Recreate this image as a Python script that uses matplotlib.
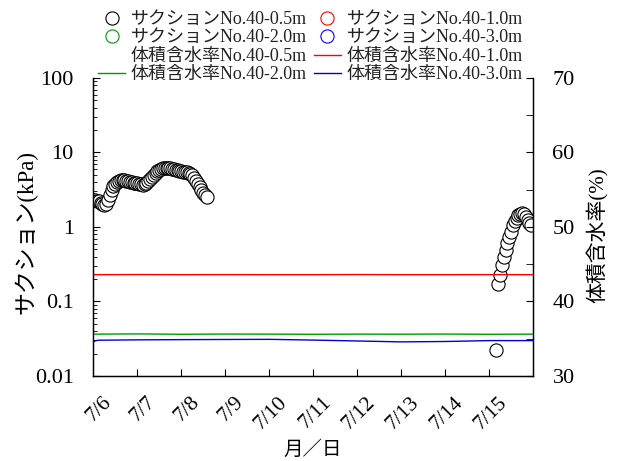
import matplotlib
matplotlib.use("Agg")
import matplotlib.pyplot as plt
from matplotlib.ticker import FixedLocator, NullFormatter, LogLocator, MultipleLocator
from matplotlib.lines import Line2D

plt.rcParams['font.family'] = ['Liberation Serif', 'Noto Sans CJK JP']

# ---- data -------------------------------------------------------------
# elapsed time is measured in days from 7/6 00:00
day_labels = ['7/6', '7/7', '7/8', '7/9', '7/10', '7/11', '7/12', '7/13', '7/14', '7/15']

# suction No.40-0.5m, hourly readings (kPa)
suction_05_a_hours = list(range(0, 63))
suction_05_a = [2.3, 2.3, 2.25, 2.2, 2.1, 2.05, 2.0, 2.05, 2.3, 2.7,
                3.1, 3.5, 3.8, 4.0, 4.2, 4.3, 4.3, 4.25, 4.2, 4.1,
                4.05, 4.0, 3.95, 3.9, 3.85, 3.8, 3.75, 3.7, 3.75, 3.9,
                4.1, 4.4, 4.7, 5.0, 5.3, 5.6, 5.8, 6.0, 6.1, 6.2,
                6.2, 6.15, 6.1, 6.0, 5.95, 5.9, 5.8, 5.7, 5.6, 5.5,
                5.45, 5.4, 5.35, 5.2, 5.0, 4.6, 4.2, 3.8, 3.4, 3.1,
                2.9, 2.7, 2.5]
# 7/15 readings, hour of day
suction_05_b_hours = list(range(4, 24))
suction_05_b = [0.022, 0.17, 0.23, 0.31, 0.40, 0.49, 0.61, 0.74, 0.86, 1.05,
                1.22, 1.33, 1.45, 1.50, 1.55, 1.50, 1.38, 1.25, 1.13, 1.05]
suction_10 = []
suction_20 = []
suction_30 = []

# volumetric water content (%), daily at 00:00 from 7/6 to 7/16
vwc_days = [0, 0.1, 1, 2, 3, 4, 5, 6, 7, 8, 9, 10]
vwc_05 = []
vwc_10 = [43.6, 43.6, 43.62, 43.6, 43.61, 43.6, 43.6, 43.62, 43.6, 43.6, 43.61, 43.6]
vwc_20 = [35.62, 35.62, 35.65, 35.6, 35.63, 35.62, 35.6, 35.62, 35.61, 35.63, 35.6, 35.62]
vwc_30 = [34.62, 34.8, 34.85, 34.88, 34.9, 34.92, 34.82, 34.7, 34.58, 34.63, 34.75, 34.75]

# ---- figure -----------------------------------------------------------
fig = plt.figure(figsize=(6.22, 4.61), dpi=100)
ax = fig.add_axes([0.150, 0.1844, 0.707, 0.6464])

t_a = [h / 24 for h in suction_05_a_hours]
t_b = [9 + h / 24 for h in suction_05_b_hours]

MS = 9.5
mk = dict(marker='o', ms=MS, mew=0.8, mfc='white', ls='none')
ax.plot(t_a, suction_05_a, mec='black', **mk)
ax.plot(t_b, suction_05_b, mec='black', **mk)
ax.plot([], suction_10, mec='red', **mk)
ax.plot([], suction_20, mec='#00a000', **mk)
ax.plot([], suction_30, mec='blue', **mk)

ax.set_yscale('log')
ax.set_ylim(0.01, 100)
ax.set_xlim(0, 10)
ax.yaxis.set_major_locator(FixedLocator([0.01, 0.1, 1, 10, 100]))
ax.set_yticklabels(['0.01', '0.1', '1', '10', '100'])
ax.yaxis.set_minor_locator(LogLocator(base=10, subs=range(2, 10)))
ax.yaxis.set_minor_formatter(NullFormatter())

ax.xaxis.set_major_locator(FixedLocator(range(1, 10)))
ax.xaxis.set_major_formatter(NullFormatter())
ax.xaxis.set_minor_locator(FixedLocator([d + 0.5 for d in range(10)]))
ax.set_xticklabels(day_labels, minor=True, rotation=45, ha='right', va='top',
                   fontsize=15.5)
ax.tick_params(axis='x', which='minor', length=0, pad=12)
ax.tick_params(axis='x', which='major', direction='in', length=5)
ax.tick_params(axis='y', which='major', direction='in', length=5, labelsize=16, pad=14)
ax.tick_params(axis='y', which='minor', direction='in', length=3)
ax.spines['top'].set_visible(False)
for s in ax.spines.values():
    s.set_linewidth(1.0)

ax.set_ylabel('サクション(kPa)', fontsize=16.5)
ax.yaxis.set_label_coords(-0.128, 0.483)
ax.set_xlabel('月／日', fontsize=14)
ax.xaxis.set_label_coords(0.5, -0.215)

ax2 = ax.twinx()
ax2.plot([], vwc_05, color='none', lw=1)
ax2.plot(vwc_days, vwc_10, color='red', lw=1)
ax2.plot(vwc_days, vwc_20, color='#009900', lw=1)
ax2.plot(vwc_days, vwc_30, color='#0000dd', lw=1)
ax2.set_ylim(30, 70)
ax2.yaxis.set_major_locator(MultipleLocator(10))
ax2.yaxis.set_minor_locator(MultipleLocator(5))
ax2.tick_params(axis='y', which='both', direction='in', length=5, labelsize=16, pad=14)
ax2.spines['top'].set_visible(False)
ax2.set_ylabel('体積含水率(%)', fontsize=15)
ax2.yaxis.set_label_coords(1.122, 0.473)

# ---- legend ------------------------------------------------------------
def mh(c):
    return Line2D([], [], marker='o', ms=MS, mew=0.8, mfc='white', mec=c, ls='none')

def lh(c):
    return Line2D([], [], color=c, lw=1)

handles = [mh('black'), mh('#00a000'), lh('none'), lh('#009900'),
           mh('red'), mh('blue'), lh('red'), lh('#0000dd')]
labels = ['サクションNo.40-0.5m', 'サクションNo.40-2.0m',
          '体積含水率No.40-0.5m', '体積含水率No.40-2.0m',
          'サクションNo.40-1.0m', 'サクションNo.40-3.0m',
          '体積含水率No.40-1.0m', '体積含水率No.40-3.0m']
leg = fig.legend(handles, labels, ncol=2, loc='upper left',
                 bbox_to_anchor=(98 / 622, 1 - 11 / 461), frameon=False,
                 fontsize=13, handlelength=1.5, handletextpad=0.3,
                 columnspacing=0.4, labelspacing=0.08, borderpad=0,
                 borderaxespad=0)
for t in leg.get_texts():
    t.set_color('#222222')

fig.savefig('out.png', dpi=100)
